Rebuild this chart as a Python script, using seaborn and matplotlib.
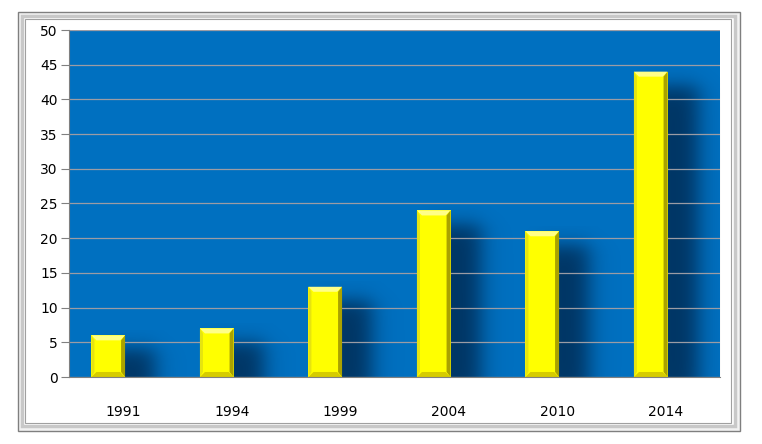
import numpy as np
import pandas as pd
import matplotlib
matplotlib.use("Agg")
import matplotlib.pyplot as plt
from matplotlib.patches import Rectangle, Polygon
import seaborn as sns

# chart data
years = ['1991', '1994', '1999', '2004', '2010', '2014']
values = [6, 7, 13, 24, 21, 44]
y_ticks = [0, 5, 10, 15, 20, 25, 30, 35, 40, 45, 50]

df = pd.DataFrame({'year': years, 'value': values})

sns.set_style("white")
plt.rcParams['font.family'] = ['DejaVu Sans']

fig = plt.figure(figsize=(7.62, 4.44), dpi=100)
fig.patch.set_facecolor('white')

# beveled outer frame (figure coords)
W, H = 762.0, 444.0
def frame(x0, y0, x1, y1, ec, lw=1.0, fc='none', z=0):
    fig.patches.append(Rectangle((x0 / W, 1 - y1 / H), (x1 - x0) / W, (y1 - y0) / H,
                                 transform=fig.transFigure, fc=fc, ec=ec, lw=lw, zorder=z))

frame(18, 12, 740, 431, '#7f7f7f', 1.0, '#f2f2f2', z=-5)
frame(22, 16, 735, 426, '#c8c8c8', 2.5, 'white', z=-4)
frame(25, 19, 731, 423, '#a0a0a0', 0.8, 'white', z=-3)

ax = fig.add_axes([69 / W, 1 - 377 / H, (720 - 69) / W, (377 - 30) / H])
ax.set_facecolor('#0070c0')

sns.barplot(data=df, x='year', y='value', width=0.31, color='#ffff00',
            saturation=1, ax=ax, zorder=3, linewidth=0)

# pixel sizes in data units
px_x = 1 / 108.5
px_y = 50 / 347.0
shift = 15 * px_x


def soft(t, a, b, s):
    return 0.25 * (1 + np.tanh((t - a) / s)) * (1 + np.tanh((b - t) / s))


for p in ax.patches:
    p.set_x(p.get_x() - shift)
    x0 = p.get_x()
    w = p.get_width()
    h = p.get_height()
    x1 = x0 + w
    # soft blurred shadow to the right of the bar
    ex0, ex1 = x0, x1 + 75 * px_x
    ey1 = h + 5 * px_y
    xs = np.linspace(ex0, ex1, 150)
    ys = np.linspace(0, ey1, 200)
    ax_h = soft(xs, x0 + 14 * px_x, x1 + 30 * px_x, 13 * px_x)
    ax_v = soft(ys, -20 * px_y, h - 14 * px_y, 11 * px_y)
    alpha = 0.62 * np.outer(ax_v, ax_h)
    img = np.zeros((len(ys), len(xs), 4))
    img[..., 1] = 0.06
    img[..., 2] = 0.16
    img[..., 3] = alpha
    ax.imshow(img, extent=(ex0, ex1, 0, ey1), origin='lower', aspect='auto',
              interpolation='bilinear', zorder=1.5)
    # bevel edges
    bx = 5 * px_x
    by = 5 * px_y
    ax.add_patch(Polygon([(x0, h), (x1, h), (x1 - bx, h - by), (x0 + bx, h - by)],
                         closed=True, fc='#ffff88', ec='none', zorder=4))
    ax.add_patch(Polygon([(x1, h), (x1, 0), (x1 - bx * 0.8, by), (x1 - bx * 0.8, h - by)],
                         closed=True, fc='#aaa200', ec='none', zorder=4))
    ax.add_patch(Polygon([(x0, h), (x0, 0), (x0 + bx * 0.6, by), (x0 + bx * 0.6, h - by)],
                         closed=True, fc='#e6e410', ec='none', zorder=4))
    ax.add_patch(Polygon([(x0, 0), (x1, 0), (x1 - bx, by), (x0 + bx, by)],
                         closed=True, fc='#d6cc00', ec='none', zorder=4))

ax.set_xlim(-0.5, len(years) - 0.5)
ax.set_ylim(0, 50)
ax.set_yticks(y_ticks)

# gridlines
ax.yaxis.grid(True, color='#9c9ca4', linewidth=0.9)
ax.set_axisbelow(False)
for gl in ax.get_ygridlines():
    gl.set_zorder(2)

# ticks
ax.set_xticks(np.arange(len(years)))
ax.set_xticklabels(years)
ax.set_xticks(np.arange(len(years) + 1) - 0.5, minor=True)
ax.tick_params(axis='x', which='major', length=0, pad=20, labelsize=10, colors='black')
ax.tick_params(axis='x', which='minor', length=6, width=0.8, color='#808080', direction='out')
ax.tick_params(axis='y', length=6, width=0.8, color='#808080', labelsize=10,
               labelcolor='black', pad=2, direction='out', left=True)
ax.set_xlabel('')
ax.set_ylabel('')

for s in ['top', 'right']:
    ax.spines[s].set_visible(False)
for s in ['left', 'bottom']:
    ax.spines[s].set_color('#808080')
    ax.spines[s].set_linewidth(0.8)
    ax.spines[s].set_zorder(5)

fig.savefig('out.png', dpi=100)
